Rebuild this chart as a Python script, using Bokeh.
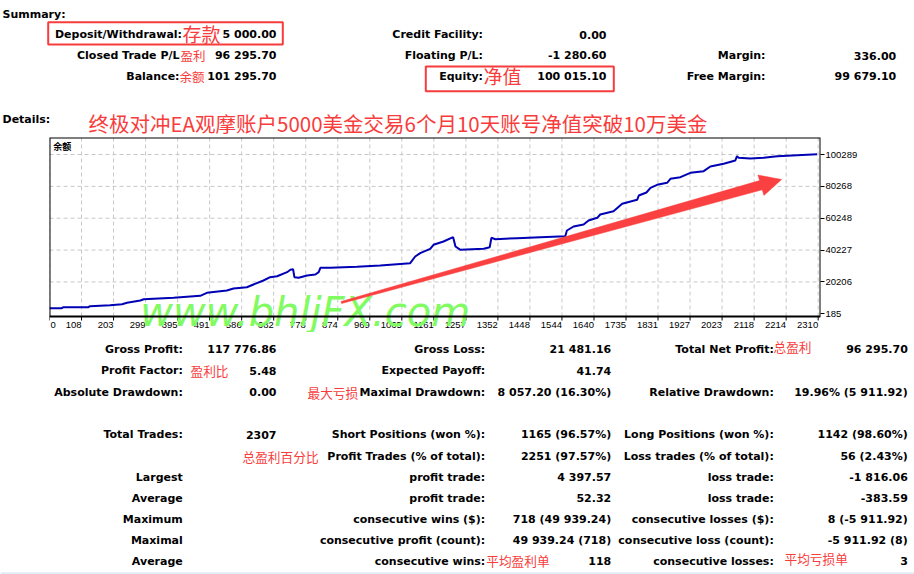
from bokeh.plotting import figure
from bokeh.layouts import column
from bokeh.models import Range1d, FixedTicker, BasicTickFormatter
from bokeh.core.properties import value
from bokeh.embed import file_html
from bokeh.resources import INLINE

trade_no = [0, 37, 42, 117, 122, 182, 218, 233, 273, 283, 373, 453, 473, 533, 553, 593,
            613, 643, 663, 684, 714, 724, 732, 736, 749, 774, 799, 809, 814, 844, 924,
            994, 1084, 1099, 1114, 1144, 1154, 1184, 1213, 1220, 1235, 1305, 1323, 1328,
            1340, 1405, 1475, 1550, 1555, 1575, 1605, 1620, 1646, 1655, 1695, 1721, 1766,
            1771, 1794, 1806, 1826, 1856, 1866, 1896, 1926, 1966, 1986, 2026, 2061, 2066,
            2071, 2106, 2146, 2187, 2247, 2307]
balance = [3700, 3700, 4330, 4330, 4960, 5590, 6220, 7100, 8540, 9360, 10240, 11500,
           13380, 14830, 16080, 16900, 18600, 21110, 23180, 23810, 26330, 27830, 28210,
           23180, 22810, 24250, 24880, 26330, 29090, 29090, 29720, 30540, 31980, 36190,
           38270, 41030, 43550, 45620, 48320, 42480, 40400, 41030, 42040, 47940, 47060,
           47690, 48320, 48950, 52530, 55040, 56300, 58820, 60510, 62590, 64660, 69310,
           71820, 74530, 76410, 79360, 81250, 82510, 85020, 86020, 88790, 89800, 92750,
           94450, 96520, 99220, 98220, 97780, 98220, 99220, 99850, 100480]

x_tick_labels = ["0", "108", "203", "299", "395", "491", "586", "682", "778", "874", "969",
                 "1065", "1161", "1257", "1352", "1448", "1544", "1640", "1735", "1831",
                 "1927", "2023", "2118", "2214", "2310"]
y_tick_values = [185, 20206, 40227, 60248, 80268, 100289]

summary_c1_labels = ["Deposit/Withdrawal:", "Closed Trade P/L", "Balance:"]
summary_c1_values = ["5 000.00", "96 295.70", "101 295.70"]
summary_c1_notes = ["存款", "盈利", "余额"]
summary_c2_labels = ["Credit Facility:", "Floating P/L:", "Equity:"]
summary_c2_values = ["0.00", "-1 280.60", "100 015.10"]
summary_c3_labels = ["Margin:", "Free Margin:"]
summary_c3_values = ["336.00", "99 679.10"]

title_text = "终极对冲EA观摩账户5000美金交易6个月10天账号净值突破10万美金"

stats_a_labels = ["Gross Profit:", "Profit Factor:", "Absolute Drawdown:", "Total Trades:", "",
                  "Largest", "Average", "Maximum", "Maximal", "Average"]
stats_a_values = ["117 776.86", "5.48", "0.00", "2307", "", "", "", "", "", ""]
stats_b_labels = ["Gross Loss:", "Expected Payoff:", "Maximal Drawdown:",
                  "Short Positions (won %):", "Profit Trades (% of total):", "profit trade:",
                  "profit trade:", "consecutive wins ($):", "consecutive profit (count):",
                  "consecutive wins:"]
stats_b_values = ["21 481.16", "41.74", "8 057.20 (16.30%)", "1165 (96.57%)",
                  "2251 (97.57%)", "4 397.57", "52.32", "718 (49 939.24)",
                  "49 939.24 (718)", "118"]
stats_c_labels = ["Total Net Profit:", "", "Relative Drawdown:", "Long Positions (won %):",
                  "Loss trades (% of total):", "loss trade:", "loss trade:",
                  "consecutive losses ($):", "consecutive loss (count):", "consecutive losses:"]
stats_c_values = ["96 295.70", "", "19.96% (5 911.92)", "1142 (98.60%)", "56 (2.43%)",
                  "-1 816.06", "-383.59", "8 (-5 911.92)", "-5 911.92 (8)", "3"]
stats_notes = ["盈利比", "最大亏损", "总盈利百分比", "总盈利", "平均盈利单", "平均亏损单"]

watermark_text = "www.bhljFX.com"
arrow_x = [876, 2134, 2129, 2200, 2147, 2142, 878]
arrow_y = [7914, 83888, 87407, 84579, 74588, 78107, 6658]

# ---------------- styling ----------------
W = 914
RED = "#f83c3c"
FONT = value("DejaVu Sans")
CJK = value("Noto Sans CJK SC")


def sheet(height, y0, y1):
    p = figure(width=W, height=height, x_range=Range1d(0, W), y_range=Range1d(y1, y0),
               toolbar_location=None, output_backend="svg", x_axis_type=None,
               y_axis_type=None, min_border_left=0, min_border_right=0, min_border_top=0,
               min_border_bottom=0, outline_line_color=None, background_fill_color="white",
               border_fill_color="white", frame_align=False)
    return p


def put(p, xs, ys, texts, align, size="11px", color="black", font=FONT, style="bold"):
    p.text(x=xs, y=ys, text=texts, text_align=align, text_baseline="middle",
           text_font=font, text_font_size=size, text_font_style=style, text_color=color)


# ---------------- header ----------------
head = sheet(137, 0, 137)
rows = [34, 55, 76]
put(head, [2, 2], [14, 119], ["Summary:", "Details:"], "left")
put(head, [181.5, 179, 179], rows, summary_c1_labels, "right")
put(head, [276] * 3, rows, summary_c1_values, "right")
put(head, [182], [33], summary_c1_notes[:1], "left", size="19px", color=RED, font=CJK, style="normal")
put(head, [180, 179], [55, 76], summary_c1_notes[1:], "left", size="12.5px", color=RED, font=CJK, style="normal")
put(head, [482.5] * 3, rows, summary_c2_labels, "right")
put(head, [606] * 3, rows, summary_c2_values, "right")
put(head, [483], [75], ["净值"], "left", size="19px", color=RED, font=CJK, style="normal")
put(head, [765] * 2, rows[1:], summary_c3_labels, "right")
put(head, [895.7] * 2, rows[1:], summary_c3_values, "right")
head.quad(left=[47.7, 425.3], right=[282.3, 613.3], top=[21.7, 66], bottom=[44, 90.7],
          fill_color=None, line_color=RED, line_width=2)
put(head, [88], [122], [title_text], "left", size="20.5px", color=RED, font=CJK, style="normal")

# ---------------- chart ----------------
PX = 628.4                     # balance units per screen pixel
X0, X1 = 0, 2317               # plotted trade range
Y0, Y1 = -1512, 110972         # plotted balance range (inside the black box)
Y_LOW = Y0 - 16 * PX           # room for the trade-number labels under the box

chart = figure(width=W, height=195, x_range=Range1d(X0, X1), y_range=Range1d(Y_LOW, Y1),
               toolbar_location=None, output_backend="svg", x_axis_type=None,
               y_axis_location="right", min_border_left=49, min_border_right=94,
               min_border_top=0, min_border_bottom=0, background_fill_color="white",
               border_fill_color="white", outline_line_color=None, frame_align=False)
chart.ygrid.visible = False
ax = chart.yaxis[0]
ax.ticker = FixedTicker(ticks=y_tick_values)
ax.formatter = BasicTickFormatter(use_scientific=False)
ax.axis_line_color = None
ax.major_tick_out = 4
ax.major_tick_in = 0
ax.minor_tick_out = 0
ax.minor_tick_in = 0
ax.major_tick_line_color = "black"
ax.major_label_text_font = "Liberation Sans"
ax.major_label_text_font_size = "9.5px"
ax.major_label_text_color = "black"
ax.major_label_standoff = 1

x_tick_pos = [i * 2310 / 24 for i in range(len(x_tick_labels))]
n = len(x_tick_pos)
grid_kw = dict(line_color="#c8c8c8", line_dash="4 3", line_width=1)
chart.segment(x0=x_tick_pos, y0=[Y0] * n, x1=x_tick_pos, y1=[Y1] * n, **grid_kw)
m = len(y_tick_values) - 1
chart.segment(x0=[X0] * m, y0=y_tick_values[1:], x1=[X1] * m, y1=y_tick_values[1:], **grid_kw)
# tick marks under the box
chart.segment(x0=x_tick_pos, y0=[Y0] * n, x1=x_tick_pos, y1=[Y0 - 4 * PX] * n,
              line_color="black", line_width=1)
# trade-number labels (MT4 puts them just left of their tick)
lab_y = Y0 - 8.5 * PX
chart.text(x=x_tick_pos[1:], y=[lab_y] * (n - 1), text=x_tick_labels[1:], text_align="right",
           text_baseline="middle", text_font=value("Liberation Sans"),
           text_font_size="9.5px", text_color="black")
chart.text(x=x_tick_pos[:1], y=[lab_y], text=x_tick_labels[:1], text_align="left",
           x_offset=1, text_baseline="middle", text_font=value("Liberation Sans"),
           text_font_size="9.5px", text_color="black")

chart.text(x=[273], y=[1002], text=[watermark_text], text_align="left",
           text_baseline="alphabetic", text_font=FONT, text_font_style="italic",
           text_font_size="40px", text_color="#80fb62")
chart.line(trade_no, balance, line_color="#0000b4", line_width=2)
chart.patch(arrow_x, arrow_y, fill_color="#fa4040", line_color="#fa4040", line_width=0.5)
chart.text(x=[11], y=[105300], text=["余额"], text_font=CJK, text_font_size="9px",
           text_font_style="bold", text_baseline="middle", text_align="left",
           text_color="black")
# the black box around the plotting area
chart.quad(left=[X0], right=[X1], top=[Y1], bottom=[Y0], fill_color=None,
           line_color="black", line_width=2)

# ---------------- statistics ----------------
stats = sheet(242, 332, 574)
srows = [349.3, 370.3, 391.7, 434.3, 455.7, 476.7, 497.7, 518.7, 539.7, 560.7]
put(stats, [182.3] * 10, srows, stats_a_labels, "right")
put(stats, [276] * 10, srows, stats_a_values, "right")
put(stats, [484.7] * 10, srows, stats_b_labels, "right")
put(stats, [610.7] * 10, srows, stats_b_values, "right")
put(stats, [773.3] * 10, srows, stats_c_labels, "right")
put(stats, [907.3] * 10, srows, stats_c_values, "right")
put(stats, [190, 307, 242, 773, 485.7, 784], [370.3, 391.7, 455.7, 346, 560, 557.7],
    stats_notes, "left", size="12.7px", color=RED, font=CJK, style="normal")
stats.quad(left=[0], right=[W], top=[571.7], bottom=[574], fill_color="#e2ebf8",
           line_color=None)

page = column(head, chart, stats, spacing=0)

open("out.html", "w").write(file_html(page, INLINE))
